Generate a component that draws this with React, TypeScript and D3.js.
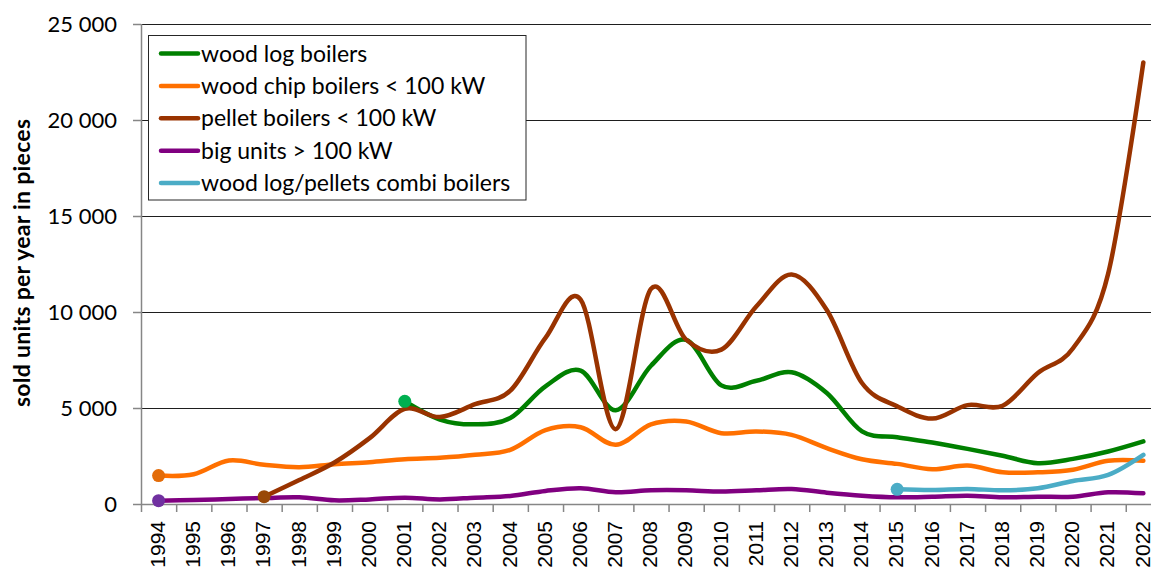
import React from "react";
import * as d3 from "d3";

const years = d3.range(1994, 2023).map(String);
const yTicks = [0, 5000, 10000, 15000, 20000, 25000];

type V = number | null;
const woodLog: V[] = [null, null, null, null, null, null, null, 5350, 4400, 4150, 4480, 6130, 6950, 4880, 7200, 8550, 6180, 6420, 6860, 5780, 3780, 3480, 3200, 2870, 2510, 2125, 2350, 2735, 3260];
const woodChip: V[] = [1480, 1550, 2265, 2040, 1916, 2073, 2178, 2334, 2404, 2560, 2822, 3850, 4000, 3080, 4150, 4300, 3690, 3780, 3600, 2910, 2330, 2090, 1810, 2000, 1650, 1650, 1780, 2250, 2250];
const pellet: V[] = [null, null, null, 380, 1250, 2160, 3430, 4950, 4530, 5200, 5900, 8650, 10650, 3900, 11200, 8560, 8040, 10300, 11950, 10100, 6300, 5090, 4450, 5150, 5120, 6820, 8110, 12000, 23000];
const bigUnits: V[] = [174, 210, 260, 310, 350, 190, 240, 330, 240, 330, 420, 680, 820, 610, 714, 714, 645, 714, 784, 590, 435, 350, 380, 435, 350, 380, 380, 610, 557];
const combi: V[] = [null, null, null, null, null, null, null, null, null, null, null, null, null, null, null, null, null, null, null, null, null, 766, 730, 784, 714, 820, 1200, 1515, 2560];

const seriesNames = ["wood log boilers", "wood chip boilers < 100 kW", "pellet boilers < 100 kW", "big units > 100 kW", "wood log/pellets combi boilers"];
const lineColors = ["#008000", "#FF7000", "#993300", "#800080", "#4BACC6"];
const markerColors = ["#00B050", "#E36C09", "#984807", "#7030A0", "#4BACC6"];
const seriesData = [woodLog, woodChip, pellet, bigUnits, combi];
const drawOrder = [0, 1, 3, 2, 4];

export default function App() {
  const W = 1151, H = 569;
  const left = 141, bottom = 504, top = 24;
  const band = 35.17;
  const x = d3.scalePoint<string>().domain(years).range([left, left + band * years.length]).padding(0.5);
  const y = d3.scaleLinear().domain([0, 25000]).range([bottom, top]);
  const line = d3
    .line<V>()
    .defined((d) => d != null)
    .x((_, i) => x(years[i]) as number)
    .y((d) => y(d as number))
    .curve(d3.curveCardinal.tension(0));
  const right = left + band * years.length;
  const boundaries = d3.range(years.length + 1).map((i) => left + i * band);

  return (
    <svg width={W} height={H} style={{ position: "absolute", left: 0, top: 0, background: "#fff" }}>
      <rect x={0} y={0} width={W} height={H} fill="#fff" />
      {yTicks.slice(1).map((t) => (
        <line key={t} x1={left} x2={right} y1={Math.round(y(t)) + 0.5} y2={Math.round(y(t)) + 0.5} stroke="#1e1e1e" strokeWidth={1} />
      ))}
      {/* axes */}
      <line x1={left + 0.5} x2={left + 0.5} y1={top} y2={bottom} stroke="#868686" strokeWidth={1.5} />
      <line x1={left} x2={right} y1={bottom + 0.5} y2={bottom + 0.5} stroke="#868686" strokeWidth={1.5} />
      {yTicks.map((t) => (
        <g key={t}>
          <line x1={left - 8} x2={left} y1={Math.round(y(t)) + 0.5} y2={Math.round(y(t)) + 0.5} stroke="#868686" strokeWidth={1.5} />
          <text x={117} y={y(t)} dy="0.35em" textAnchor="end" fontFamily="Lato" fontSize={22} fill="#000">
            {d3.format(",")(t).replace(/,/g, " ")}
          </text>
        </g>
      ))}
      {boundaries.map((b, i) => (
        <line key={i} x1={b + 0.5} x2={b + 0.5} y1={bottom} y2={bottom + 8} stroke="#868686" strokeWidth={1.5} />
      ))}
      {years.map((yr) => (
        <text
          key={yr}
          transform={`translate(${x(yr)},${bottom + 17}) rotate(-90)`}
          textAnchor="end"
          dy="0.3em"
          fontFamily="Liberation Sans"
          fontSize={21}
          fill="#000"
        >
          {yr}
        </text>
      ))}
      <text
        transform={`translate(22,263) rotate(-90)`}
        textAnchor="middle"
        dy="0.35em"
        fontFamily="Lato"
        fontWeight="bold"
        fontSize={23}
        textLength={288}
        lengthAdjust="spacing"
        fill="#000"
      >
        sold units per year in pieces
      </text>
      {/* series */}
      {drawOrder.map((si) => (
        <path key={si} d={line(seriesData[si]) || ""} fill="none" stroke={lineColors[si]} strokeWidth={4.5} strokeLinecap="round" strokeLinejoin="round" />
      ))}
      {seriesData.map((s, si) => {
        const idx = s.findIndex((v) => v != null);
        return <circle key={si} cx={x(years[idx]) as number} cy={y(s[idx] as number)} r={6.5} fill={markerColors[si]} />;
      })}
      {/* legend */}
      <rect x={148.5} y={35.5} width={377.5} height={164.5} fill="#fff" stroke="#262626" strokeWidth={1} />
      {seriesNames.map((n, i) => {
        const cy = 53.5 + i * 32.4;
        return (
          <g key={n}>
            <line x1={161} x2={198} y1={cy} y2={cy} stroke={lineColors[i]} strokeWidth={4.5} strokeLinecap="round" />
            <text x={201} y={cy} dy="0.35em" fontFamily="Lato" fontSize={23} fill="#000">
              {n}
            </text>
          </g>
        );
      })}
    </svg>
  );
}
